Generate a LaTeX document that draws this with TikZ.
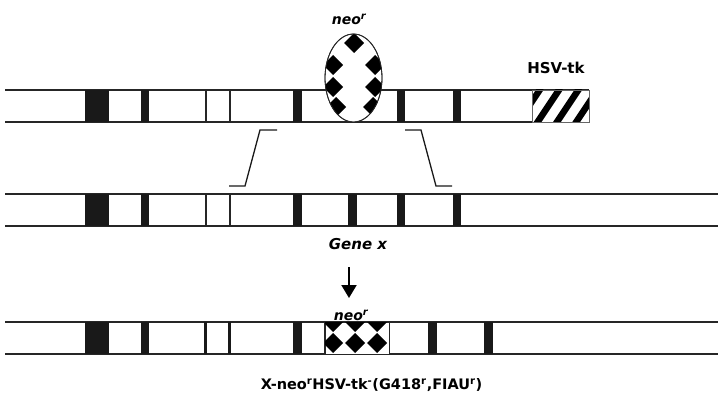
\documentclass[tikz,border=0pt]{standalone}
\usepackage{fontspec}
\setmainfont{DejaVu Sans}
\usetikzlibrary{arrows.meta,shapes.geometric}
\begin{document}
\begin{tikzpicture}[x=1pt,y=-1pt]
\useasboundingbox (0,0) rectangle (718,396);
\tikzset{
  rowline/.style={line width=1.3pt, draw=black!85},
  exon/.style={fill=black!90},
  thinex/.style={line width=2pt, draw=black!85},
  lbl/.style={font=\bfseries\fontsize{15}{18}\selectfont, inner sep=0pt},
  ilbl/.style={font=\bfseries\itshape\fontsize{14}{17}\selectfont, inner sep=0pt},
  brk/.style={line width=1.3pt, draw=black!90},
  dia/.style={fill=black}
}
% ---------- row 1 (targeting vector) ----------
\draw[rowline] (5,90) -- (589,90) (5,122) -- (589,122);
\foreach \a/\b in {85/109,141/149,293/302,397/405,453/461}
  \fill[exon] (\a,90) rectangle (\b,122);
\foreach \a in {205.5,229.5}
  \draw[thinex] (\a,90) -- (\a,122);
% HSV-tk hatched box
\begin{scope}
  \clip (532,90) rectangle (589,122);
  \fill[white] (532,90) rectangle (589,122);
  \foreach \k in {0,...,4}
    \draw[line width=6.5pt] ({517+19.3*\k},124) -- ({541+19.3*\k},88);
\end{scope}
\draw[line width=0.8pt, draw=black!60] (532,90) rectangle (589,122);
% neo ellipse
\node[ellipse, draw=black!85, fill=white, line width=0.8pt, minimum width=57pt, minimum height=88pt, inner sep=0pt] (neoE) at (353.5,78) {};
\begin{scope}
  \clip (353.5,78) ellipse [x radius=28.5pt, y radius=44pt];
  \foreach \x/\y in {354/43,333/65,375/65,333/87,375/87,336/107,373/107}
    \fill[dia] (\x-10,\y) -- (\x,\y-10) -- (\x+10,\y) -- (\x,\y+10) -- cycle;
\end{scope}
\draw[black!85, line width=0.8pt] (neoE.center) ellipse [x radius=28.5pt, y radius=44pt];
% ---------- brackets ----------
\coordinate (l1) at (277,130); \coordinate (l2) at (260,130);
\coordinate (l3) at (245,186); \coordinate (l4) at (229,186);
\coordinate (r1) at (405,130); \coordinate (r2) at (421,130);
\coordinate (r3) at (436,186); \coordinate (r4) at (452,186);
\draw[brk] (l1) -- (l2) -- (l3) -- (l4);
\draw[brk] (r1) -- (r2) -- (r3) -- (r4);
% ---------- row 2 (gene x) ----------
\draw[rowline] (5,194) -- (718,194) (5,226) -- (718,226);
\foreach \a/\b in {85/109,141/149,293/302,348/357,397/405,453/461}
  \fill[exon] (\a,194) rectangle (\b,226);
\foreach \a in {205.5,229.5}
  \draw[thinex] (\a,194) -- (\a,226);
% ---------- row 3 (recombined) ----------
\draw[rowline] (5,322) -- (718,322) (5,354) -- (718,354);
\foreach \a/\b in {85/109,141/149,293/302,428/437,484/493}
  \fill[exon] (\a,322) rectangle (\b,354);
\foreach \a in {205.5,229.5}
  \draw[line width=2.4pt, draw=black!90] (\a,322) -- (\a,354);
\node[rectangle, draw=black!85, fill=white, line width=0.9pt, minimum width=64pt, minimum height=32pt, inner sep=0pt] (neoB) at (357,338) {};
\begin{scope}
  \clip (325,322) rectangle (389,354);
  \foreach \x in {333,355,377}
    \foreach \y in {322,343}
      \fill[dia] (\x-10,\y) -- (\x,\y-10) -- (\x+10,\y) -- (\x,\y+10) -- cycle;
\end{scope}
\draw[black!85, line width=0.9pt] (neoB.south west) rectangle (neoB.north east);
% ---------- arrow ----------
\coordinate (as) at (349,267);
\coordinate (ae) at (349,298);
\draw[line width=2pt, -{Triangle[width=15pt,length=13pt]}] (as) -- (ae);
% ---------- labels ----------
\node[ilbl] (neoTlbl) at (349,19) {neo\textsuperscript{r}};
\node[lbl] (hsvlbl) at (556,68) {HSV-tk};
\node[ilbl, font=\bfseries\itshape\fontsize{15}{18}\selectfont] (genelbl) at (358,244) {Gene x};
\node[ilbl] (neoBlbl) at (351,315) {neo\textsuperscript{r}};
\node[lbl, font=\bfseries\fontsize{14.5}{17}\selectfont] (genolbl) at (371.5,385) {X-neo\textsuperscript{r}HSV-tk\textsuperscript{-}(G418\textsuperscript{r},FIAU\textsuperscript{r})};
\end{tikzpicture}
\end{document}
